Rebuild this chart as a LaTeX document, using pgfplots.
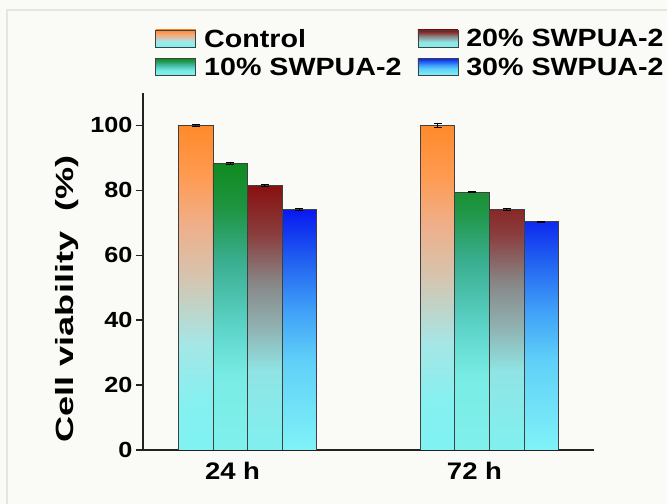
\documentclass[border=0pt]{standalone}
\usepackage{fontspec}
\setmainfont{Liberation Sans}[FakeStretch=1.15]
\newfontfamily\ylabfont{Liberation Sans}[FakeStretch=1.45]
\usepackage{pgfplots}
\pgfplotsset{compat=1.18}
\definecolor{bg}{HTML}{FAFAF6}
\definecolor{framec}{HTML}{E6E6DC}
\definecolor{axc}{HTML}{222222}
\definecolor{edgec}{HTML}{404040}
% control
\definecolor{ca}{HTML}{80F2F2}\definecolor{cb}{HTML}{86F0F0}\definecolor{cc}{HTML}{A6E6E6}
\definecolor{cd}{HTML}{D5C5B0}\definecolor{ce}{HTML}{F0AE88}\definecolor{cf}{HTML}{FF9A50}\definecolor{cg}{HTML}{FF8A2A}
% green
\definecolor{ga}{HTML}{80F0EC}\definecolor{gb}{HTML}{78ECE4}\definecolor{gc}{HTML}{5CD4C8}
\definecolor{gd}{HTML}{3AAE90}\definecolor{ge}{HTML}{1E9440}\definecolor{gf}{HTML}{108A20}
% red
\definecolor{ra}{HTML}{80F0F0}\definecolor{rb}{HTML}{90E4E4}\definecolor{rc}{HTML}{90B0B0}
\definecolor{rd}{HTML}{888888}\definecolor{re}{HTML}{8A4040}\definecolor{rf}{HTML}{881010}
% blue
\definecolor{ba}{HTML}{80F2F8}\definecolor{bb}{HTML}{60D0F8}\definecolor{bc}{HTML}{40A0F8}
\definecolor{bd}{HTML}{2060F0}\definecolor{be}{HTML}{0818F0}
\pgfdeclareverticalshading{ctrlsh}{100bp}{color(0bp)=(ca); color(25bp)=(ca); color(32.5bp)=(cb); color(41.5bp)=(cc); color(51.5bp)=(cd); color(60bp)=(ce); color(67.5bp)=(cf); color(75bp)=(cg); color(100bp)=(cg)}
\pgfdeclareverticalshading{greensh}{100bp}{color(0bp)=(ga); color(25bp)=(ga); color(38bp)=(gb); color(46.5bp)=(gc); color(58bp)=(gd); color(67.5bp)=(ge); color(75bp)=(gf); color(100bp)=(gf)}
\pgfdeclareverticalshading{redsh}{100bp}{color(0bp)=(ra); color(25bp)=(ra); color(40bp)=(rb); color(48.5bp)=(rc); color(56.5bp)=(rd); color(65.5bp)=(re); color(75bp)=(rf); color(100bp)=(rf)}
\pgfdeclareverticalshading{bluesh}{100bp}{color(0bp)=(ba); color(25bp)=(ba); color(43.5bp)=(bb); color(54bp)=(bc); color(64.5bp)=(bd); color(75bp)=(be); color(100bp)=(be)}
\begin{document}
\begin{tikzpicture}
\fill[bg] (-143bp,-54bp) rectangle (524bp,450bp);
\draw[framec, line width=1.5bp] (-136bp,-54bp) -- (-136bp,440bp) -- (524bp,440bp);
\begin{axis}[
  scale only axis, width=451bp, height=357bp,
  xmin=-0.432, xmax=1.432, ymin=0, ymax=110,
  axis x line*=bottom, axis y line*=left,
  axis line style={-, line width=2bp, axc},
  xtick={0,1}, xticklabels={24 h,72 h},
  ytick={0,20,40,60,80,100}, minor tick num=0,
  x tick style={draw=none},
  y tick style={line width=1.5bp, axc},
  tick align=outside, major tick length=7bp,
  /pgf/number format/assume math mode=true,
  yticklabel style={font=\fontsize{22}{26}\selectfont\bfseries},
  xticklabel style={font=\fontsize{24}{28}\selectfont\bfseries, yshift=-2bp, xshift=-15bp},
  ylabel={Cell viability\ \ (\%)},
  ylabel style={font=\fontsize{25}{30}\selectfont\ylabfont\bfseries, at={(ticklabel cs:0.423,5bp)}},
  ybar, bar width=34.6bp, bar shift=0bp,
  error bars/y dir=both, error bars/y explicit,
  error bars/error bar style={line width=1bp, black},
  error bars/error mark options={black, line width=1bp, mark size=4bp, rotate=90},
  legend columns=2, transpose legend,
  legend cell align=left,
  legend image code/.code={\draw[#1] (0bp,-8bp) rectangle (40bp,9bp);},
  legend style={at={(0.027,1.185)}, anchor=north west, draw=none, fill=none,
    font=\fontsize{25}{30}\selectfont\bfseries, inner sep=0pt, row sep=5bp,
    /tikz/every odd column/.append style={column sep=6bp},
    /tikz/every even column/.append style={column sep=14bp}},
]
\addplot[draw=edgec, line width=0.8bp, shade, shading=ctrlsh]
  coordinates {(-0.2145,100.0) +- (0,0.2) (0.7855,100.0) +- (0,0.5)};
\addlegendentry{Control}
\addplot[draw=edgec, line width=0.8bp, shade, shading=greensh]
  coordinates {(-0.0715,88.2) +- (0,0.3) (0.9285,79.4) +- (0,0.2)};
\addlegendentry{10\% SWPUA-2}
\addplot[draw=edgec, line width=0.8bp, shade, shading=redsh]
  coordinates {(0.0715,81.4) +- (0,0.3) (1.0715,74.1) +- (0,0.2)};
\addlegendentry{20\% SWPUA-2}
\addplot[draw=edgec, line width=0.8bp, shade, shading=bluesh]
  coordinates {(0.2145,74.2) +- (0,0.3) (1.2145,70.3) +- (0,0.2)};
\addlegendentry{30\% SWPUA-2}
\end{axis}
\pgfresetboundingbox
\useasboundingbox (-143bp,-54bp) rectangle (524bp,450bp);
\end{tikzpicture}
\end{document}
